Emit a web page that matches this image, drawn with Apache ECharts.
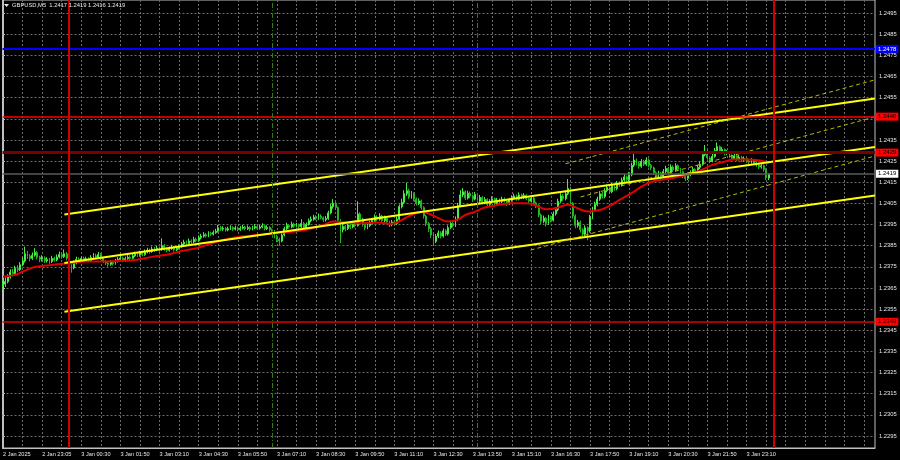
<!DOCTYPE html>
<html><head><meta charset="utf-8">
<script src="https://cdn.jsdelivr.net/npm/echarts@6/dist/echarts.min.js"></script>
<style>html,body{margin:0;padding:0;background:#000;}#c{width:900px;height:460px;}</style>
</head><body><div id="c"></div>
<script>
const symbolTitle = 'GBPUSD,M5  1.2417 1.2419 1.2416 1.2419';
const firstOpen = 1.23660;
const closes = [
1.23668,1.23680,1.23701,1.23725,1.23718,1.23742,1.23736,1.23760,1.23778,1.23812,
1.23800,1.23790,1.23805,1.23818,1.23795,1.23786,1.23792,1.23778,1.23784,1.23775,
1.23790,1.23782,1.23796,1.23808,1.23798,1.23812,1.23790,1.23760,1.23745,1.23770,
1.23785,1.23778,1.23790,1.23782,1.23788,1.23780,1.23794,1.23802,1.23796,1.23808,
1.23790,1.23776,1.23768,1.23762,1.23772,1.23765,1.23778,1.23785,1.23792,1.23780,
1.23788,1.23795,1.23790,1.23802,1.23810,1.23805,1.23815,1.23808,1.23820,1.23828,
1.23822,1.23834,1.23830,1.23838,1.23832,1.23850,1.23835,1.23828,1.23836,1.23842,
1.23830,1.23838,1.23845,1.23858,1.23866,1.23860,1.23872,1.23868,1.23880,1.23874,
1.23888,1.23895,1.23902,1.23896,1.23908,1.23904,1.23912,1.23918,1.23935,1.23928,
1.23932,1.23924,1.23930,1.23936,1.23928,1.23934,1.23926,1.23932,1.23938,1.23930,
1.23936,1.23928,1.23934,1.23940,1.23932,1.23938,1.23944,1.23930,1.23936,1.23925,
1.23918,1.23895,1.23880,1.23872,1.23900,1.23930,1.23945,1.23938,1.23952,1.23942,
1.23948,1.23940,1.23955,1.23935,1.23950,1.23968,1.23975,1.23985,1.23978,1.23990,
1.23982,1.23972,1.23978,1.24005,1.24035,1.24050,1.24030,1.23970,1.23925,1.23940,
1.23930,1.23948,1.23938,1.23955,1.23945,1.24000,1.23975,1.23950,1.23935,1.23945,
1.23958,1.23970,1.23985,1.23975,1.23990,1.23968,1.23980,1.23962,1.23950,1.23962,
1.23955,1.23975,1.24035,1.24055,1.24095,1.24110,1.24080,1.24095,1.24070,1.24050,
1.24062,1.24030,1.23990,1.23955,1.23930,1.23900,1.23870,1.23895,1.23910,1.23895,
1.23920,1.23905,1.23935,1.23955,1.23945,1.23975,1.24040,1.24090,1.24105,1.24075,
1.24098,1.24085,1.24070,1.24092,1.24060,1.24078,1.24055,1.24068,1.24045,1.24060,
1.24072,1.24050,1.24065,1.24058,1.24070,1.24062,1.24048,1.24066,1.24075,1.24085,
1.24070,1.24090,1.24078,1.24088,1.24072,1.24060,1.24075,1.24052,1.24040,1.23995,
1.23965,1.23980,1.23955,1.23985,1.23970,1.24000,1.24020,1.24060,1.24085,1.24072,
1.24095,1.24120,1.24050,1.23990,1.23945,1.23960,1.23925,1.23905,1.23935,1.23920,
1.23985,1.24020,1.24045,1.24070,1.24095,1.24082,1.24110,1.24125,1.24105,1.24135,
1.24120,1.24145,1.24138,1.24160,1.24175,1.24162,1.24185,1.24230,1.24255,1.24240,
1.24225,1.24248,1.24235,1.24255,1.24230,1.24218,1.24195,1.24180,1.24192,1.24178,
1.24200,1.24215,1.24195,1.24222,1.24208,1.24228,1.24212,1.24200,1.24180,1.24168,
1.24185,1.24195,1.24210,1.24198,1.24220,1.24235,1.24280,1.24295,1.24265,1.24250,
1.24272,1.24300,1.24318,1.24295,1.24305,1.24285,1.24292,1.24275,1.24262,1.24275,
1.24258,1.24268,1.24255,1.24262,1.24250,1.24245,1.24255,1.24240,1.24232,1.24222,
1.24228,1.24210,1.24170,1.24190];
const highs = [
1.23690,1.23700,1.23715,1.23738,1.23740,1.23755,1.23758,1.23772,1.23795,1.23845,
1.23825,1.23810,1.23818,1.23838,1.23825,1.23802,1.23805,1.23800,1.23795,1.23792,
1.23802,1.23798,1.23808,1.23822,1.23818,1.23832,1.23820,1.23795,1.23768,1.23780,
1.23798,1.23795,1.23800,1.23798,1.23798,1.23795,1.23805,1.23815,1.23812,1.23820,
1.23815,1.23795,1.23782,1.23775,1.23782,1.23780,1.23788,1.23796,1.23804,1.23798,
1.23798,1.23806,1.23804,1.23812,1.23822,1.23818,1.23826,1.23822,1.23832,1.23840,
1.23836,1.23846,1.23844,1.23850,1.23846,1.23885,1.23858,1.23842,1.23846,1.23854,
1.23848,1.23848,1.23856,1.23868,1.23878,1.23874,1.23884,1.23880,1.23892,1.23888,
1.23898,1.23906,1.23914,1.23910,1.23918,1.23916,1.23922,1.23930,1.23948,1.23944,
1.23942,1.23938,1.23940,1.23946,1.23942,1.23944,1.23940,1.23942,1.23948,1.23944,
1.23946,1.23942,1.23944,1.23952,1.23946,1.23948,1.23956,1.23950,1.23946,1.23942,
1.23932,1.23924,1.23902,1.23888,1.23910,1.23940,1.23958,1.23952,1.23964,1.23958,
1.23958,1.23954,1.23975,1.23962,1.23960,1.23978,1.23988,1.23996,1.23994,1.24002,
1.23998,1.23988,1.23990,1.24015,1.24048,1.24070,1.24058,1.24036,1.23976,1.23952,
1.23948,1.23960,1.23956,1.23966,1.23962,1.24060,1.24008,1.23982,1.23958,1.23956,
1.23968,1.23982,1.23998,1.23994,1.24004,1.23996,1.23992,1.23986,1.23968,1.23972,
1.23970,1.23988,1.24045,1.24072,1.24112,1.24147,1.24120,1.24108,1.24102,1.24078,
1.24074,1.24068,1.24036,1.23996,1.23962,1.23938,1.23908,1.23905,1.23922,1.23918,
1.23932,1.23928,1.23946,1.23968,1.23962,1.23988,1.24052,1.24112,1.24122,1.24112,
1.24110,1.24106,1.24092,1.24104,1.24098,1.24090,1.24084,1.24080,1.24074,1.24070,
1.24084,1.24078,1.24076,1.24074,1.24082,1.24078,1.24068,1.24076,1.24088,1.24096,
1.24092,1.24102,1.24096,1.24098,1.24094,1.24078,1.24086,1.24080,1.24058,1.24046,
1.24002,1.23992,1.23986,1.23996,1.23992,1.24012,1.24032,1.24072,1.24098,1.24094,
1.24110,1.24165,1.24128,1.24056,1.23998,1.23972,1.23968,1.23932,1.23946,1.23942,
1.23996,1.24034,1.24058,1.24082,1.24108,1.24104,1.24122,1.24138,1.24132,1.24146,
1.24142,1.24156,1.24154,1.24172,1.24188,1.24182,1.24198,1.24242,1.24289,1.24262,
1.24248,1.24260,1.24256,1.24268,1.24262,1.24236,1.24224,1.24202,1.24204,1.24198,
1.24212,1.24228,1.24222,1.24234,1.24230,1.24240,1.24234,1.24218,1.24206,1.24188,
1.24196,1.24206,1.24222,1.24216,1.24232,1.24248,1.24292,1.24326,1.24302,1.24272,
1.24284,1.24312,1.24338,1.24324,1.24316,1.24310,1.24302,1.24298,1.24282,1.24286,
1.24280,1.24278,1.24274,1.24272,1.24268,1.24258,1.24264,1.24260,1.24248,1.24240,
1.24236,1.24234,1.24216,1.24190];
const lows = [
1.23640,1.23655,1.23672,1.23694,1.23705,1.23710,1.23725,1.23730,1.23752,1.23770,
1.23788,1.23776,1.23782,1.23798,1.23785,1.23772,1.23775,1.23768,1.23770,1.23764,
1.23768,1.23774,1.23776,1.23790,1.23788,1.23792,1.23780,1.23748,1.23722,1.23738,
1.23762,1.23770,1.23772,1.23775,1.23774,1.23772,1.23775,1.23788,1.23788,1.23790,
1.23782,1.23768,1.23758,1.23750,1.23755,1.23756,1.23760,1.23770,1.23778,1.23772,
1.23774,1.23782,1.23782,1.23784,1.23796,1.23796,1.23798,1.23800,1.23802,1.23814,
1.23812,1.23816,1.23820,1.23824,1.23822,1.23826,1.23826,1.23818,1.23822,1.23830,
1.23822,1.23824,1.23832,1.23840,1.23850,1.23852,1.23854,1.23858,1.23862,1.23866,
1.23868,1.23880,1.23888,1.23888,1.23890,1.23896,1.23898,1.23906,1.23912,1.23920,
1.23920,1.23916,1.23918,1.23924,1.23920,1.23922,1.23918,1.23920,1.23926,1.23922,
1.23924,1.23918,1.23922,1.23928,1.23924,1.23926,1.23932,1.23922,1.23924,1.23916,
1.23906,1.23884,1.23866,1.23853,1.23866,1.23894,1.23924,1.23930,1.23932,1.23934,
1.23936,1.23930,1.23934,1.23926,1.23930,1.23944,1.23960,1.23968,1.23970,1.23972,
1.23974,1.23962,1.23964,1.23972,1.23998,1.24025,1.24018,1.23958,1.23862,1.23912,
1.23918,1.23924,1.23928,1.23932,1.23936,1.23940,1.23962,1.23940,1.23922,1.23928,
1.23938,1.23950,1.23962,1.23966,1.23968,1.23958,1.23960,1.23952,1.23938,1.23942,
1.23946,1.23948,1.23968,1.24026,1.24048,1.24085,1.24070,1.24072,1.24060,1.24040,
1.24042,1.24020,1.23978,1.23942,1.23915,1.23886,1.23850,1.23862,1.23886,1.23884,
1.23888,1.23896,1.23898,1.23928,1.23936,1.23938,1.23968,1.24032,1.24080,1.24066,
1.24068,1.24074,1.24060,1.24064,1.24050,1.24052,1.24046,1.24046,1.24036,1.24038,
1.24052,1.24040,1.24042,1.24048,1.24050,1.24054,1.24038,1.24042,1.24058,1.24068,
1.24062,1.24064,1.24070,1.24070,1.24064,1.24050,1.24054,1.24044,1.24028,1.23984,
1.23950,1.23956,1.23940,1.23948,1.23960,1.23964,1.23992,1.24012,1.24052,1.24062,
1.24064,1.24088,1.24040,1.23978,1.23932,1.23936,1.23912,1.23890,1.23896,1.23875,
1.23912,1.23976,1.24010,1.24036,1.24062,1.24072,1.24074,1.24102,1.24096,1.24098,
1.24110,1.24112,1.24128,1.24130,1.24152,1.24152,1.24154,1.24178,1.24222,1.24230,
1.24214,1.24218,1.24226,1.24228,1.24220,1.24206,1.24184,1.24168,1.24172,1.24166,
1.24172,1.24192,1.24186,1.24188,1.24198,1.24200,1.24202,1.24190,1.24170,1.24156,
1.24160,1.24178,1.24188,1.24190,1.24192,1.24212,1.24228,1.24272,1.24256,1.24240,
1.24244,1.24266,1.24292,1.24286,1.24288,1.24276,1.24278,1.24266,1.24254,1.24256,
1.24250,1.24252,1.24246,1.24248,1.24242,1.24236,1.24238,1.24232,1.24222,1.24212,
1.24214,1.24200,1.24160,1.24160];

const maBars = [0,5,8,13,20,27,34,40,47,54,61,68,73,79,84,90,97,104,111,118,125,131,135,139,145,153,159,163,167,171,174,178,182,186,189,193,197,203,208,214,218,222,226,231,235,239,244,248,252,257,261,265,269,274,281,286,290,295,299,304,310,313];
const maValues = [1.23703,1.23712,1.23727,1.23749,1.23759,1.23767,1.23775,1.23775,1.23778,1.23782,1.23797,1.23809,1.23825,1.23838,1.23856,1.23877,1.23893,1.23900,1.23909,1.23916,1.23928,1.23948,1.23964,1.23961,1.23956,1.23959,1.23953,1.23971,1.23995,1.24009,1.24002,1.23980,1.23964,1.23974,1.23995,1.24011,1.24030,1.24043,1.24051,1.24051,1.24039,1.24022,1.24027,1.24043,1.24026,1.24012,1.24019,1.24038,1.24066,1.24098,1.24129,1.24151,1.24161,1.24170,1.24189,1.24211,1.24232,1.24247,1.24257,1.24257,1.24251,1.24241];

const channelBars = [25.1, 356.5];
const channelUpper = [1.23997, 1.24546];
const channelMiddle = [1.23768, 1.24317];
const channelLower = [1.23538, 1.24087];
const dashTopBars = [230, 356.5], dashTop = [1.24237, 1.24634];
const dashMidBars = [236.1, 356.5], dashMid = [1.24080, 1.24459];
const dashLowBars = [215.7, 356.5], dashLow = [1.23829, 1.24274];

const levelValues = [1.2478, 1.2446, 1.2429, 1.2349];
const currentPrice = 1.2419;
const dayBreakBars = [27, 315];
const sessionBars = [110, 194];

const timeLabels = ['2 Jan 2025','2 Jan 23:05','3 Jan 00:30','3 Jan 01:50','3 Jan 03:10','3 Jan 04:30','3 Jan 05:50','3 Jan 07:10','3 Jan 08:30','3 Jan 09:50','3 Jan 11:10','3 Jan 12:30','3 Jan 13:50','3 Jan 15:10','3 Jan 16:30','3 Jan 17:50','3 Jan 19:10','3 Jan 20:30','3 Jan 21:50','3 Jan 23:10'];
const timeLabelBars = [0,16,32,48,64,80,96,112,128,144,160,176,192,208,224,240,256,272,288,304];
const priceTicks = [1.2295,1.2305,1.2315,1.2325,1.2335,1.2345,1.2355,1.2365,1.2375,1.2385,1.2395,1.2405,1.2415,1.2425,1.2435,1.2445,1.2455,1.2465,1.2475,1.2485,1.2495];

const gridBars = [];
for (let b = 0; b <= 352; b += 8) gridBars.push(b);

const candleData = closes.map((c, i) => [i, i === 0 ? firstOpen : closes[i - 1], c, lows[i], highs[i]]);
const pairs = (bars, vals) => bars.map((b, k) => [b, vals[k]]);

const FONT = 'Liberation Sans';
const TXT = '#e8e8e8';
const GRIDC = '#6c6c6c';

const levelStyles = [
  {line: '#0000ff', w: 2, bg: '#0000ff', fg: '#ffffff'},
  {line: '#ff0000', w: 1.5, bg: '#ff0000', fg: '#000000'},
  {line: '#7a0000', w: 3, bg: '#ff0000', fg: '#000000'},
  {line: '#e00000', w: 1.5, bg: '#ff0000', fg: '#000000'}
];
const tagLabel = (bg, fg) => ({show: true, position: 'end', distance: 1, formatter: p => Number(p.value).toFixed(4),
  backgroundColor: bg, color: fg, fontSize: 6, fontFamily: FONT, padding: [1, 2, 1, 2]});

const markData = [];
levelValues.forEach((v, k) => markData.push({yAxis: v, lineStyle: {color: levelStyles[k].line, width: levelStyles[k].w, type: 'solid'}, label: tagLabel(levelStyles[k].bg, levelStyles[k].fg)}));
markData.push({yAxis: currentPrice, lineStyle: {color: '#5a5a5a', width: 1.5, type: 'solid'}, label: tagLabel('#ffffff', '#000000')});
dayBreakBars.forEach(b => markData.push({xAxis: b, lineStyle: {color: '#d00000', width: 2, type: 'solid'}, label: {show: false}}));
sessionBars.forEach(b => markData.push({xAxis: b, lineStyle: {color: '#2f7d10', width: 1, type: [5, 2, 1, 2]}, label: {show: false}}));

const chart = echarts.init(document.getElementById('c'), null, {renderer: 'canvas', width: 900, height: 460});
chart.setOption({
  backgroundColor: '#000000',
  animation: false,
  grid: {left: 1, right: 25, top: 0, bottom: 12, show: true, borderColor: '#c0c0c0', borderWidth: 1, backgroundColor: 'transparent'},
  xAxis: {
    type: 'value', min: -0.2, max: 356.5, position: 'bottom',
    axisLine: {show: true, onZero: false, lineStyle: {color: '#c0c0c0', width: 1}},
    axisTick: {show: false, customValues: gridBars},
    splitLine: {show: true, lineStyle: {color: GRIDC, width: 1, type: [2, 2]}},
    axisLabel: {customValues: timeLabelBars, color: TXT, fontSize: 5.6, fontFamily: FONT, align: 'left', margin: 3,
      showMinLabel: true, showMaxLabel: true, hideOverlap: false,
      formatter: v => { const k = timeLabelBars.indexOf(Math.round(v)); return k >= 0 ? timeLabels[k] : ''; }}
  },
  yAxis: {
    type: 'value', position: 'right', min: 1.228933, max: 1.250115, scale: true,
    axisLine: {show: true, lineStyle: {color: '#c0c0c0', width: 1}},
    axisTick: {show: true, customValues: priceTicks, length: 2, lineStyle: {color: '#c0c0c0'}},
    splitLine: {show: true, lineStyle: {color: GRIDC, width: 1, type: [2, 2]}},
    axisLabel: {customValues: priceTicks, color: TXT, fontSize: 5.8, fontFamily: FONT, margin: 4, formatter: v => v.toFixed(4)}
  },
  graphic: [
    {type: 'polygon', shape: {points: [[4, 4], [9, 4], [6.5, 7]]}, style: {fill: '#e8e8e8'}, z: 100},
    {type: 'text', left: 12, top: 2, style: {text: symbolTitle, fill: TXT, fontSize: 5.8, fontFamily: FONT}, z: 100}
  ],
  series: [
    {type: 'candlestick', data: candleData, encode: {x: 0, y: [1, 2, 3, 4]}, barWidth: 1.4, z: 2,
      itemStyle: {color: '#46f046', color0: '#12a012', borderColor: '#46f046', borderColor0: '#22b822', borderWidth: 1}},
    {type: 'line', data: pairs(maBars, maValues), smooth: 0.4, showSymbol: false, z: 3,
      lineStyle: {color: '#e00000', width: 2}},
    {type: 'line', data: pairs(channelBars, channelUpper), showSymbol: false, z: 4, lineStyle: {color: '#ffff00', width: 2}},
    {type: 'line', data: pairs(channelBars, channelMiddle), showSymbol: false, z: 4, lineStyle: {color: '#ffff00', width: 2}},
    {type: 'line', data: pairs(channelBars, channelLower), showSymbol: false, z: 4, lineStyle: {color: '#ffff00', width: 2}},
    {type: 'line', data: pairs(dashTopBars, dashTop), showSymbol: false, z: 4, lineStyle: {color: '#b8b800', width: 1, type: [4, 3]}},
    {type: 'line', data: pairs(dashMidBars, dashMid), showSymbol: false, z: 4, lineStyle: {color: '#b8b800', width: 1, type: [4, 3]}},
    {type: 'line', data: pairs(dashLowBars, dashLow), showSymbol: false, z: 4, lineStyle: {color: '#b8b800', width: 1, type: [4, 3]}},
    {type: 'line', data: [], z: 6, markLine: {silent: true, symbol: 'none', precision: 5, animation: false, data: markData}}
  ]
});
</script>
</body></html>
